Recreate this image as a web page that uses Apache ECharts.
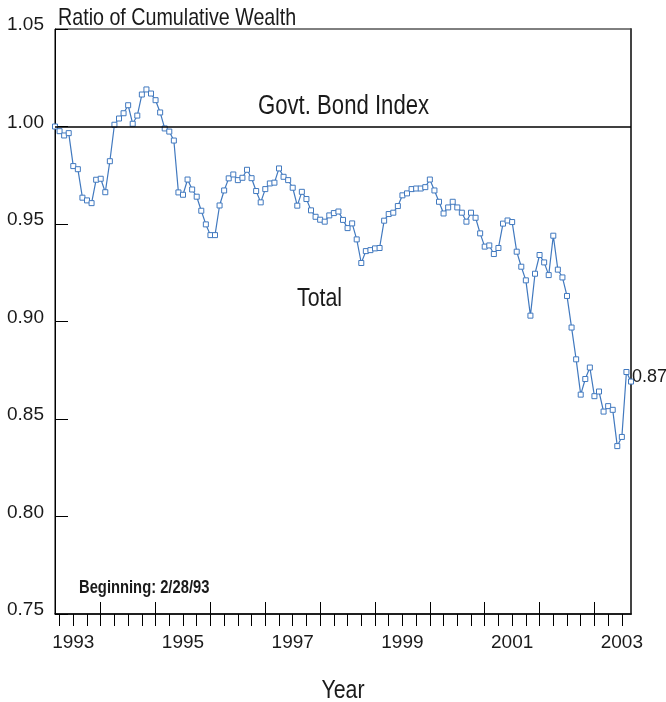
<!DOCTYPE html>
<html>
<head>
<meta charset="utf-8">
<script src="https://cdn.jsdelivr.net/npm/echarts@6/dist/echarts.min.js"></script>
<style>
html,body{margin:0;padding:0;background:#fff;}
#chart{width:666px;height:702px;}
</style>
</head>
<body>
<div id="chart"></div>
<script>
// Monthly ratio of cumulative wealth (Total / Govt. Bond Index), Feb 1993 - Aug 2003
var START_YEAR = 1993;
var START_MONTH = 2; // end of February 1993
var RATIO = [
  1.000, 0.9976, 0.9954, 0.9966, 0.9797, 0.9781, 0.9635, 0.9621, 0.9607, 0.9727,
  0.9732, 0.9663, 0.9822, 1.0009, 1.0041, 1.0068, 1.0109, 1.0014, 1.0056, 1.0164,
  1.0190, 1.0169, 1.0135, 1.0072, 0.9990, 0.9974, 0.9928, 0.9662, 0.9650, 0.9728,
  0.9677, 0.9640, 0.9568, 0.9498, 0.9443, 0.9443, 0.9595, 0.9672, 0.9734, 0.9754,
  0.9725, 0.9737, 0.9778, 0.9735, 0.9669, 0.9611, 0.9679, 0.9708, 0.9712, 0.9785,
  0.9742, 0.9725, 0.9686, 0.9594, 0.9665, 0.9628, 0.9570, 0.9537, 0.9522, 0.9512,
  0.9544, 0.9556, 0.9564, 0.9521, 0.9479, 0.9503, 0.9421, 0.9300, 0.9361, 0.9366,
  0.9375, 0.9377, 0.9517, 0.9551, 0.9558, 0.9592, 0.9647, 0.9657, 0.9679, 0.9682,
  0.9682, 0.9689, 0.9728, 0.9672, 0.9614, 0.9554, 0.9585, 0.9614, 0.9585, 0.9558,
  0.9512, 0.9558, 0.9532, 0.9452, 0.9384, 0.9390, 0.9346, 0.9377, 0.9502, 0.9518,
  0.9510, 0.9358, 0.9281, 0.9211, 0.9030, 0.9245, 0.9341, 0.9303, 0.9238, 0.9440,
  0.9266, 0.9226, 0.9131, 0.8969, 0.8806, 0.8625, 0.8705, 0.8764, 0.8617, 0.8641,
  0.8538, 0.8566, 0.8547, 0.8361, 0.8408, 0.8741, 0.8692
];
var BENCHMARK = 1.00;
var YEAR_LABELS = ['1993', '1995', '1997', '1999', '2001', '2003'];
var Y_MIN = 0.75, Y_MAX = 1.05, Y_STEP = 0.05;
var TITLE = 'Ratio of Cumulative Wealth';
var BENCH_NAME = 'Govt. Bond Index';
var SERIES_NAME = 'Total';
var NOTE = 'Beginning: 2/28/93';
var X_NAME = 'Year';

var FONT = '"Liberation Sans", Arial, sans-serif';
var TXT = '#1a1a1a';
var BLUE = '#4179bf';
var NARROW = 0.82; // horizontal condensing for free text

// x position of each month-end point, in fractional years
var points = RATIO.map(function (v, i) {
  return [START_YEAR + (START_MONTH + i) / 12, v];
});
var xMin = START_YEAR + START_MONTH / 12;
var xMax = START_YEAR + (START_MONTH + RATIO.length - 1) / 12;

var quarterTicks = [];
for (var q = Math.ceil(xMin * 4) / 4; q <= xMax + 1e-9; q += 0.25) quarterTicks.push(+q.toFixed(2));
var yearTicks = [];
for (var y = Math.ceil(xMin); y <= xMax; y++) yearTicks.push(y);
var labelPos = YEAR_LABELS.map(function (s) { return +s + 0.5; });

function narrowText(text, x, y, size, weight, align) {
  return {
    type: 'text', x: x, y: y, scaleX: NARROW, scaleY: 1, silent: true,
    style: {text: text, font: (weight || 'normal') + ' ' + size + 'px ' + FONT, fill: TXT,
            textAlign: align || 'left', textVerticalAlign: 'middle'}
  };
}

var chart = echarts.init(document.getElementById('chart'), null, {renderer: 'canvas'});
var option = {
  animation: false,
  backgroundColor: '#fff',
  textStyle: {fontFamily: FONT, color: TXT},
  grid: {left: 55, right: 35, top: 29, bottom: 88, show: true, borderColor: '#000', borderWidth: 1,
         containLabel: false, outerBoundsMode: 'none'},
  xAxis: [
    {
      type: 'value', min: xMin, max: xMax,
      axisLine: {show: true, lineStyle: {color: '#000', width: 1.5}},
      axisTick: {show: true, inside: false, length: 12, customValues: quarterTicks, lineStyle: {color: '#000', width: 1}},
      axisLabel: {
        show: true, customValues: labelPos, margin: 19,
        fontFamily: FONT, fontSize: 19, color: TXT,
        formatter: function (v) { return YEAR_LABELS[Math.round((v - 0.5 - +YEAR_LABELS[0]) / 2)]; }
      },
      splitLine: {show: false}
    },
    {
      type: 'value', min: xMin, max: xMax, position: 'bottom',
      axisLine: {show: false},
      axisTick: {show: true, inside: true, length: 12, customValues: yearTicks, lineStyle: {color: '#000', width: 1}},
      axisLabel: {show: false},
      splitLine: {show: false}
    }
  ],
  yAxis: [
    {
      type: 'value', min: Y_MIN, max: Y_MAX, interval: Y_STEP,
      axisLine: {show: true, lineStyle: {color: '#000', width: 1}},
      axisTick: {show: true, inside: true, length: 13, lineStyle: {color: '#000'}},
      axisLabel: {
        fontFamily: FONT, fontSize: 19, color: TXT, margin: 11,
        verticalAlign: 'bottom', lineHeight: 8,
        formatter: function (v) { return v.toFixed(2); }
      },
      splitLine: {show: false}
    },
    {
      type: 'value', min: Y_MIN, max: Y_MAX, position: 'right',
      axisLine: {show: true, lineStyle: {color: '#444', width: 2}},
      axisTick: {show: false}, axisLabel: {show: false}, splitLine: {show: false}
    }
  ],
  series: [
    {
      name: SERIES_NAME, type: 'line', data: points,
      xAxisIndex: 0, yAxisIndex: 0,
      symbol: 'rect', symbolSize: 5, showAllSymbol: true,
      lineStyle: {color: BLUE, width: 1.2},
      itemStyle: {color: '#fff', borderColor: BLUE, borderWidth: 1},
      clip: false,
      endLabel: {
        show: true, distance: 1, offset: [0, -5],
        fontFamily: FONT, fontSize: 18, color: TXT,
        formatter: function (p) { return p.value[1].toFixed(2); }
      },
      markLine: {
        silent: true, symbol: 'none', label: {show: false},
        lineStyle: {color: '#000', width: 1.5, type: 'solid'},
        data: [{yAxis: BENCHMARK}]
      },
      z: 3
    }
  ],
  graphic: [
    narrowText(TITLE, 58, 18, 24),
    narrowText(BENCH_NAME, 258, 107, 27),
    narrowText(SERIES_NAME, 297, 299, 26),
    narrowText(NOTE, 79, 588, 18, 'bold'),
    narrowText(X_NAME, 343, 691, 26, 'normal', 'center')
  ]
};
chart.setOption(option);
</script>
</body>
</html>
